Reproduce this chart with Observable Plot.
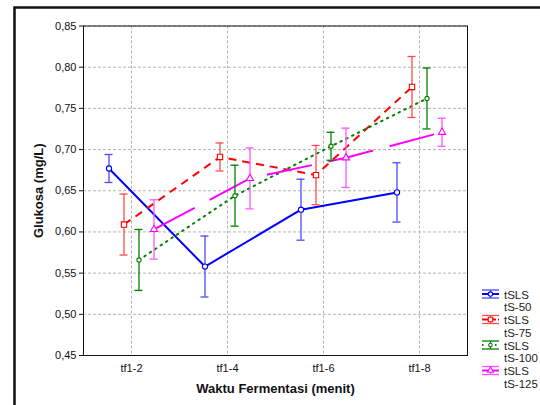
<!DOCTYPE html>
<html><head><meta charset="utf-8">
<script src="https://cdn.jsdelivr.net/npm/d3@7"></script>
<script src="https://cdn.jsdelivr.net/npm/@observablehq/plot@0.6"></script>
<style>
html,body{margin:0;padding:0;background:#fff;}
#chart{position:relative;width:540px;height:405px;overflow:hidden;}
#chart svg [aria-label="y-axis label"], #chart svg [aria-label="x-axis label"]{font-weight:bold;font-size:13px;}
</style></head><body><div id="chart"></div>
<script>
const categories = ["tf1-2", "tf1-4", "tf1-6", "tf1-8"];
const seriesLabels = [["tSLS", "tS-50"], ["tSLS", "tS-75"], ["tSLS", "tS-100"], ["tSLS", "tS-125"]];
const mean50  = [0.677, 0.558, 0.627, 0.648];
const err50   = [0.017, 0.037, 0.037, 0.036];
const mean75  = [0.609, 0.691, 0.669, 0.776];
const err75   = [0.037, 0.017, 0.036, 0.037];
const mean100 = [0.566, 0.644, 0.704, 0.762];
const err100  = [0.037, 0.037, 0.017, 0.037];
const mean125 = [0.603, 0.665, 0.690, 0.721];
const err125  = [0.036, 0.037, 0.036, 0.017];
const yTicks = [0.45, 0.50, 0.55, 0.60, 0.65, 0.70, 0.75, 0.80, 0.85];
const xTicks = [1, 2, 3, 4];

const styles = [
  {stroke: "#0000ff", err: "#4b4bff", dash: null, symbol: "circle", r: 2.6},
  {stroke: "#ff0000", err: "#ff4b4b", dash: "8,6", symbol: "square", r: 3.0},
  {stroke: "#008000", err: "#008000", dash: "1.5,5", symbol: "circle", r: 2.1},
  {stroke: "#ff00ff", err: "#ff55ff", dash: "46,17", symbol: "triangle", r: 2.7}
];
const means = [mean50, mean75, mean100, mean125];
const errs = [err50, err75, err100, err125];

const series = means.map((m, si) => categories.map((c, i) => ({
  x: i + 1, y: m[i], lo: m[i] - errs[si][i], hi: m[i] + errs[si][i]
})));

const cap = 0.042;
const marks = [
  Plot.gridY({ticks: yTicks, stroke: "#b4b4b4", strokeOpacity: 1, strokeDasharray: "3,2"}),
  Plot.gridX({ticks: xTicks, stroke: "#b4b4b4", strokeOpacity: 1, strokeDasharray: "3,2"}),
  Plot.frame({stroke: "#111"}),
  Plot.axisY({ticks: yTicks, tickSize: 4, tickPadding: 3,
    tickFormat: d => d.toFixed(2).replace(".", ","),
    label: "Glukosa (mg/L)", labelAnchor: "center", labelOffset: 50, labelArrow: "none"}),
  Plot.axisX({ticks: xTicks, tickSize: 0, tickPadding: 9,
    tickFormat: d => categories[d - 1],
    label: "Waktu Fermentasi (menit)", labelAnchor: "center", labelOffset: 37, labelArrow: "none"})
];
series.forEach((data, si) => {
  const s = styles[si];
  const dx = (si - 1.5) * 15;
  marks.push(Plot.line(data, {x: "x", y: "y", stroke: s.stroke, strokeWidth: 2, strokeDasharray: s.dash, strokeLinecap: s.dash === "1.5,5" ? "round" : "butt", dx}));
});
series.forEach((data, si) => {
  const s = styles[si];
  const dx = (si - 1.5) * 15;
  marks.push(Plot.ruleX(data, {x: "x", y1: "lo", y2: "hi", stroke: s.err, strokeWidth: 1.3, dx}));
  marks.push(Plot.ruleY(data, {y: "hi", x1: d => d.x - cap, x2: d => d.x + cap, stroke: s.err, strokeWidth: 1.3, dx}));
  marks.push(Plot.ruleY(data, {y: "lo", x1: d => d.x - cap, x2: d => d.x + cap, stroke: s.err, strokeWidth: 1.3, dx}));
  marks.push(Plot.dot(data, {x: "x", y: "y", symbol: s.symbol, r: s.r, stroke: s.stroke, fill: "white", strokeWidth: 1.1, dx}));
});

const chart = Plot.plot({
  width: 540, height: 405,
  marginLeft: 83, marginRight: 73, marginTop: 25.5, marginBottom: 50,
  style: {fontFamily: "'Liberation Sans', Arial, sans-serif", fontSize: "11px", color: "#111", background: "#fff"},
  x: {type: "linear", domain: [0.5, 4.5]},
  y: {domain: [0.45, 0.85]},
  marks
});
document.getElementById("chart").appendChild(chart);

const svg = d3.select(chart);
// outer figure frame
svg.append("path").attr("d", "M14.5,405V7.5H540").attr("fill", "none").attr("stroke", "#111").attr("stroke-width", 2.5);
// legend
const lg = svg.append("g").attr("font-family", "'Liberation Sans', Arial, sans-serif").attr("font-size", 11.5).attr("fill", "#222").attr("text-anchor", "start");
seriesLabels.forEach((lab, i) => {
  const s = styles[i];
  const cy = 294 + i * 25.5;
  const g = lg.append("g").attr("transform", `translate(0,${cy})`);
  g.append("line").attr("x1", 482).attr("x2", 499).attr("y1", -4).attr("y2", -4).attr("stroke", s.err).attr("stroke-width", 1.3);
  g.append("line").attr("x1", 482).attr("x2", 499).attr("y1", 4).attr("y2", 4).attr("stroke", s.err).attr("stroke-width", 1.3);
  g.append("line").attr("x1", 490.5).attr("x2", 490.5).attr("y1", -4).attr("y2", 4).attr("stroke", s.err).attr("stroke-width", 1.3);
  g.append("line").attr("x1", 482).attr("x2", 499).attr("y1", 0).attr("y2", 0).attr("stroke", s.stroke).attr("stroke-width", 2)
    .attr("stroke-dasharray", s.dash === "46,17" ? null : (s.dash === "8,6" ? "6,2" : s.dash));
  g.append("path").attr("d", d3.symbol(s.symbol === "circle" ? d3.symbolCircle : s.symbol === "square" ? d3.symbolSquare : d3.symbolTriangle, Math.PI * s.r * s.r * 0.7)())
    .attr("transform", "translate(490.5,0)").attr("fill", "white").attr("stroke", s.stroke).attr("stroke-width", 1.1);
  g.append("text").attr("x", 504).attr("y", 4.5).attr("text-anchor", "start").text(lab[0]);
  g.append("text").attr("x", 504).attr("y", 17).attr("text-anchor", "start").text(lab[1]);
});
</script>
</body></html>
